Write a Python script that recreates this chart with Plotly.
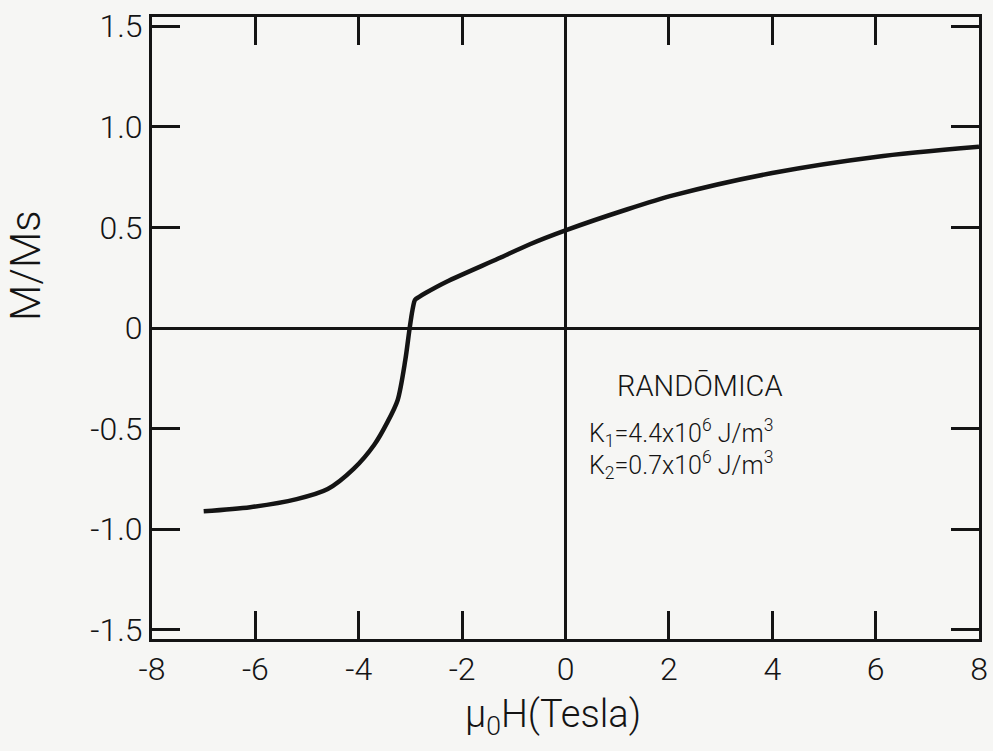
import plotly.graph_objects as go

# Data
field_T = [-7.0, -6.1, -5.2, -4.6, -4.1, -3.7, -3.45, -3.25, -3.1, -3.02, -2.96, -2.91,
           -2.83, -2.7, -2.3, -1.3, -0.7, 0.0, 1.2, 2.1, 4.0, 6.0, 8.0]
m_over_ms = [-0.91, -0.89, -0.85, -0.80, -0.70, -0.58, -0.47, -0.36, -0.16, -0.01, 0.09, 0.14,
             0.155, 0.175, 0.23, 0.345, 0.415, 0.485, 0.59, 0.66, 0.77, 0.85, 0.90]

x_tickvals = [-8, -6, -4, -2, 0, 2, 4, 6, 8]
x_ticktext = ["-8", "-6", "-4", "-2", "0", "2", "4", "6", "8"]
y_tickvals = [-1.5, -1.0, -0.5, 0, 0.5, 1.0, 1.5]
y_ticktext = ["-1.5", "-1.0", "-0.5", "0", "0.5", "1.0", "1.5"]

INK = "#141414"
PAPER = "#f6f6f4"
FONT = "Roboto"

fig = go.Figure()
fig.add_trace(go.Scatter(
    x=field_T, y=m_over_ms, mode="lines",
    line=dict(color=INK, width=4.5, shape="spline", smoothing=0.8),
    hoverinfo="skip", showlegend=False,
))

axis_common = dict(
    showline=True, linecolor=INK, linewidth=3, mirror="ticks",
    ticks="inside", ticklen=28, tickwidth=2.5, tickcolor=INK,
    showgrid=False, zeroline=True, zerolinecolor=INK, zerolinewidth=2.5,
    tickfont=dict(family=FONT, size=32, color=INK, weight=300),
    ticklabeloverflow="allow",
)

fig.update_xaxes(range=[-8, 8], tickvals=x_tickvals, ticktext=x_ticktext, **axis_common)
fig.update_yaxes(range=[-1.545, 1.545], tickvals=y_tickvals, ticktext=y_ticktext, **axis_common)

fig.add_annotation(text="M/Ms", xref="paper", yref="paper", x=-0.152, y=0.6,
                   xanchor="center", yanchor="middle",
                   textangle=-90, showarrow=False,
                   font=dict(family=FONT, size=42, color=INK, weight=300))
fig.add_annotation(text="μ<sub>0</sub>H(Tesla)", xref="paper", yref="paper", x=0.485, y=-0.124,
                   xanchor="center", yanchor="middle", showarrow=False,
                   font=dict(family=FONT, size=38, color=INK, weight=300))
fig.add_annotation(text="RANDŌMICA", x=2.6, y=-0.29, showarrow=False,
                   font=dict(family=FONT, size=29, color=INK, weight=300))
fig.add_annotation(text="K<sub>1</sub>=4.4x10<sup>6</sup> J/m<sup>3</sup>", x=0.42, y=-0.52,
                   xanchor="left", showarrow=False,
                   font=dict(family=FONT, size=25, color=INK, weight=300))
fig.add_annotation(text="K<sub>2</sub>=0.7x10<sup>6</sup> J/m<sup>3</sup>", x=0.42, y=-0.68,
                   xanchor="left", showarrow=False,
                   font=dict(family=FONT, size=25, color=INK, weight=300))

fig.update_layout(
    width=993, height=751,
    margin=dict(l=152, r=5, t=17, b=112),
    paper_bgcolor=PAPER, plot_bgcolor=PAPER,
    showlegend=False,
)

fig.write_html("out.html")
